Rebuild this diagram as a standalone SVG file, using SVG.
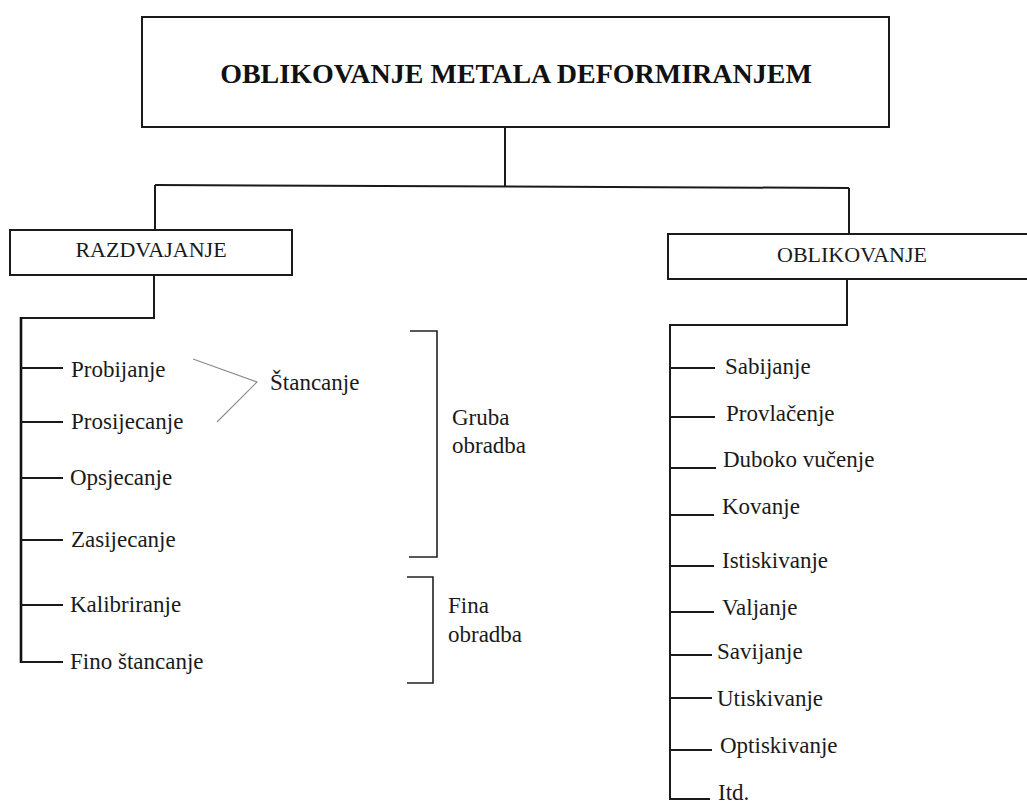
<svg xmlns="http://www.w3.org/2000/svg" width="1027" height="804" viewBox="0 0 1027 804">
<style>
.bg{fill:#fff}
.box{fill:none;stroke:#1a1a1a;stroke-width:2}
.ln{fill:none;stroke:#1a1a1a;stroke-width:2}
.thick{fill:none;stroke:#111;stroke-width:2.6}
.br{fill:none;stroke:#222;stroke-width:1.6}
.gray{fill:none;stroke:#8a8a8a;stroke-width:1.1}
.t{font-family:"Liberation Serif","Times New Roman",serif;font-size:23px;fill:#1a1a1a}
.h{font-family:"Liberation Serif","Times New Roman",serif;font-size:22px;fill:#1a1a1a}
.title{font-family:"Liberation Serif","Times New Roman",serif;font-size:28px;font-weight:bold;fill:#111}
</style>
<rect class="bg" x="0" y="0" width="1027" height="804"/>

<g id="connectors">
  <path class="ln" d="M505,127 V186"/>
  <path class="ln" d="M155,185 L849,188"/>
  <path class="ln" d="M155,185 V230"/>
  <path class="ln" d="M849,188 V234"/>
  <path class="ln" d="M154,275 V318 H21"/>
  <path class="thick" d="M21,317 V663"/>
  <path class="ln" d="M21,368 H63 M21,422 H63 M21,478 H63 M21,540 H63 M21,605 H63 M21,662 H63"/>
  <path class="ln" d="M847,279 V325 H670"/>
  <path class="ln" d="M670,324 V800"/>
  <path class="ln" d="M670,368 H715 M670,417 H715 M670,468 H716 M670,515 H714 M670,566 H714 M670,612 H714 M670,655 H712 M670,698 H712 M670,750 H712 M670,799 H710"/>
  <path class="gray" d="M193,359 L257,382 L217,422"/>
  <path class="br" d="M410,331 H437 V557 H409"/>
  <path class="br" d="M407,577 H433 V683 H407"/>
</g>

<g id="root">
  <rect class="box" x="142" y="17" width="747" height="110"/>
  <text class="title" x="516" y="83" text-anchor="middle">OBLIKOVANJE METALA DEFORMIRANJEM</text>
</g>

<g id="razdvajanje">
  <rect class="box" x="10" y="230" width="282" height="45"/>
  <text class="h" x="151" y="257" text-anchor="middle">RAZDVAJANJE</text>
</g>

<g id="oblikovanje">
  <rect class="box" x="668" y="234" width="370" height="45"/>
  <text class="h" x="852" y="262" text-anchor="middle">OBLIKOVANJE</text>
</g>

<g id="probijanje"><text class="t" x="71" y="377">Probijanje</text></g>
<g id="prosijecanje"><text class="t" x="71" y="429">Prosijecanje</text></g>
<g id="opsjecanje"><text class="t" x="70" y="485">Opsjecanje</text></g>
<g id="zasijecanje"><text class="t" x="71" y="547">Zasijecanje</text></g>
<g id="kalibriranje"><text class="t" x="70" y="612">Kalibriranje</text></g>
<g id="fino-stancanje"><text class="t" x="70" y="669">Fino štancanje</text></g>
<g id="stancanje"><text class="t" x="270" y="390">Štancanje</text></g>
<g id="gruba-obradba"><text class="t" x="452" y="425">Gruba</text><text class="t" x="452" y="453">obradba</text></g>
<g id="fina-obradba"><text class="t" x="448" y="613">Fina</text><text class="t" x="448" y="642">obradba</text></g>

<g id="sabijanje"><text class="t" x="725" y="374">Sabijanje</text></g>
<g id="provlacenje"><text class="t" x="726" y="421">Provlačenje</text></g>
<g id="duboko-vucenje"><text class="t" x="723" y="467">Duboko vučenje</text></g>
<g id="kovanje"><text class="t" x="722" y="514">Kovanje</text></g>
<g id="istiskivanje"><text class="t" x="722" y="568">Istiskivanje</text></g>
<g id="valjanje"><text class="t" x="722" y="615">Valjanje</text></g>
<g id="savijanje"><text class="t" x="717" y="659">Savijanje</text></g>
<g id="utiskivanje"><text class="t" x="717" y="706">Utiskivanje</text></g>
<g id="optiskivanje"><text class="t" x="720" y="753">Optiskivanje</text></g>
<g id="itd"><text class="t" x="718" y="800">Itd.</text></g>
</svg>
